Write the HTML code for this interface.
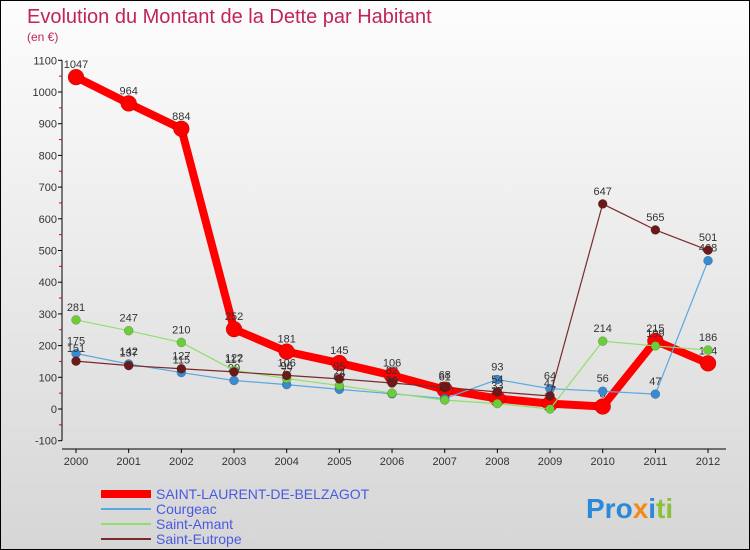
<!DOCTYPE html>
<html><head><meta charset="utf-8"><style>
body{margin:0}
#wrap{width:750px;height:550px;position:relative;overflow:hidden;background:linear-gradient(#fdfdfd,#d6d6d6);font-family:"Liberation Sans",sans-serif;box-sizing:border-box;border:1px solid #000}
</style></head><body>
<div id="wrap">
<svg id="svg" width="750" height="550" style="position:absolute;left:0;top:0">
<text x="26" y="22" font-size="20" fill="#c0245a">Evolution du Montant de la Dette par Habitant</text>
<text x="26" y="40" font-size="12" fill="#c0245a">(en €)</text>
<g id="axes"></g><g id="series"></g><g id="legend"></g>
<text x="585" y="517" font-size="28" font-weight="bold" fill="#2a8ad8">Pro<tspan fill="#f08a1a">x</tspan>i<tspan fill="#8ac23a">ti</tspan></text>
</svg>
</div>
<script>
const years=[2000,2001,2002,2003,2004,2005,2006,2007,2008,2009,2010,2011,2012];
const yTicks=[-100,0,100,200,300,400,500,600,700,800,900,1000,1100];
const seriesNames=["SAINT-LAURENT-DE-BELZAGOT","Courgeac","Saint-Amant","Saint-Eutrope"];
const mainVals=[1047,964,884,252,181,145,106,61,33,17,8,215,144];
const courgeacVals=[175,142,115,90,77,62,48,33,93,64,56,47,468];
const amantVals=[281,247,210,122,96,74,50,28,17,0,214,199,186];
const eutropeVals=[151,137,127,117,106,95,82,68,54,41,647,565,501];
const NS="http://www.w3.org/2000/svg";
const x=i=>75+i*52.67;
const y=v=>408-v*0.317;
function mk(tag,attrs,parent,txt){const e=document.createElementNS(NS,tag);for(const k in attrs)e.setAttribute(k,attrs[k]);if(txt!==undefined)e.textContent=txt;parent.appendChild(e);return e;}
const ax=document.getElementById('axes');
const a1=mk('line',{x1:61,y1:y(1100),x2:61,y2:y(-100),stroke:'#000'},ax);

yTicks.forEach(t=>{
 mk('line',{x1:57,x2:61,y1:y(t),y2:y(t),stroke:'#000'},ax);
 if(t<1100)mk('line',{x1:58,x2:61,y1:y(t+50),y2:y(t+50),stroke:'#e00'},ax);
 const l=mk('text',{x:56,y:y(t)+4,'font-size':11,'text-anchor':'end',fill:'#333'},ax,t);
 
});
const a2=mk('line',{x1:61,y1:448,x2:725,y2:448,stroke:'#000'},ax);

years.forEach((yr,i)=>{
 mk('line',{x1:x(i),x2:x(i),y1:448,y2:452,stroke:'#000'},ax);
 const l=mk('text',{x:x(i),y:464,'font-size':11,'text-anchor':'middle',fill:'#333'},ax,yr);
 
});
const sg=document.getElementById('series');
const defs=[[eutropeVals,'#7a2a2a','#6b1a1a',1.2,4.5,'saint-eutrope'],[amantVals,'#8ee06a','#6ccc3a',1.2,4.5,'saint-amant'],[courgeacVals,'#5aa8e0','#3a8ad0',1.2,4.5,'courgeac'],[mainVals,'#f00','#f00',8,8,'saint-laurent']];
defs.slice().reverse().concat([]).reverse();
[defs[3],defs[2],defs[1],defs[0]].reverse();
[3,2,1,0].map(k=>defs[k]).reverse().forEach(()=>{});
[defs[3],defs[2],defs[1],defs[0]].forEach(()=>{});
// draw order: main first, then small series on top
[defs[3],defs[2],defs[1],defs[0]].forEach(d=>{
 const [vals,lc,pc,w,r,nm]=d;
 const p=mk('polyline',{points:vals.map((v,i)=>x(i)+','+y(v)).join(' '),fill:'none',stroke:lc,'stroke-width':w,'stroke-linejoin':'round'},sg);
 
 vals.forEach((v,i)=>{
  const c=mk('circle',{cx:x(i),cy:y(v),r:r,fill:pc,stroke:'rgba(0,0,0,0.3)','stroke-width':0.5},sg);
  
  const t=mk('text',{x:x(i),y:y(v)-9,'font-size':11,'text-anchor':'middle',fill:'#333'},sg,v);
  
 });
});
const lg=document.getElementById('legend');
const lcols=['#f00','#5aa8e0','#8ee06a','#7a2a2a'];const lw=[8,2,2,2];
seriesNames.forEach((n,i)=>{
 const yy=493+i*15;
 const l=mk('line',{x1:100,x2:150,y1:yy,y2:yy,stroke:lcols[i],'stroke-width':lw[i]},lg);
 
 const t=mk('text',{x:155,y:yy+5,'font-size':14,fill:'#4a5ae0'},lg,n);
 
});
</script>
</body></html>
